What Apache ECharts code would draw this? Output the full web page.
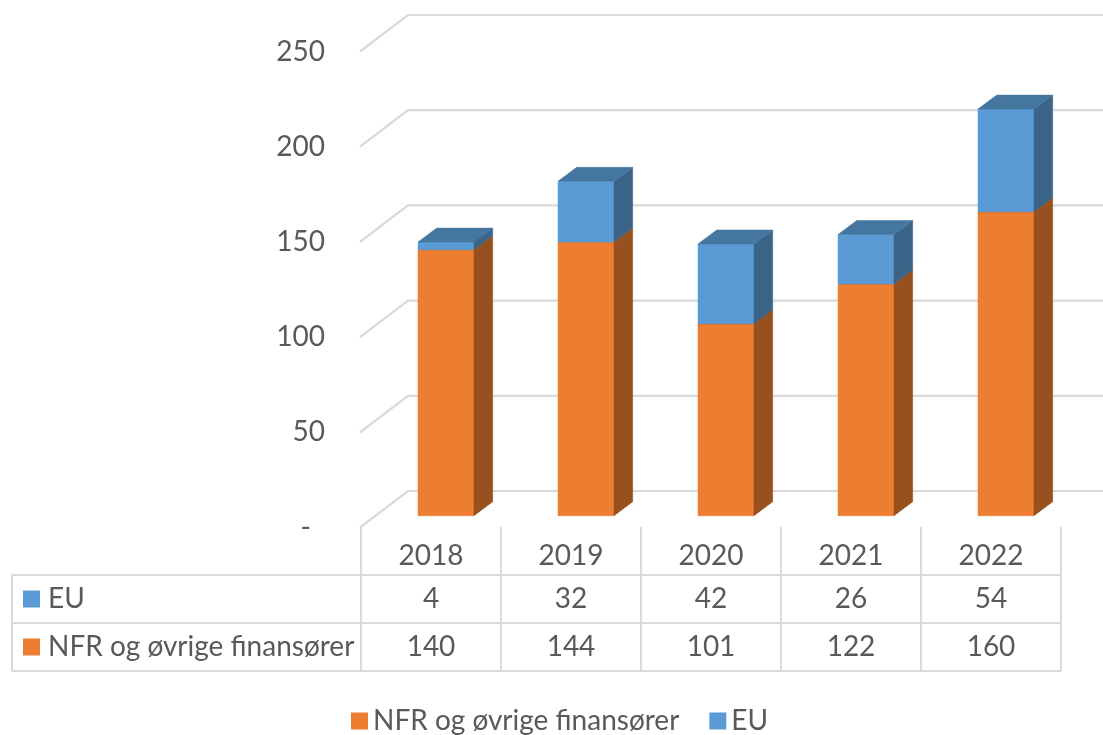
<!DOCTYPE html>
<html><head><meta charset="utf-8">
<script src="https://cdn.jsdelivr.net/npm/echarts@6/dist/echarts.min.js"></script>
<style>html,body{margin:0;padding:0;background:#fff}#c{width:1103px;height:735px}</style>
</head><body><div id="c"></div>
<script>
// ---- data ----
const years = ['2018', '2019', '2020', '2021', '2022'];
const nfrValues = [140, 144, 101, 122, 160];
const euValues = [4, 32, 42, 26, 54];
const nfrName = 'NFR og øvrige finansører';
const euName = 'EU';
const yTicks = [0, 50, 100, 150, 200, 250];

// ---- style ----
const FONT = 'Lato';
const FS = 28;
const TXT = '#595959';
const GRIDC = '#d9d9d9';
const ORANGE = '#ED7D31', ORANGE_SIDE = '#99501F', ORANGE_TOP = '#B5601F';
const BLUE = '#5B9BD5', BLUE_SIDE = '#3A6589', BLUE_TOP = '#44769F';
const DEPTH = [18.7, -14];     // bar side offset
const WALL = [-48, 36.5];      // back wall -> front edge offset
const HEADER_W = 349;          // width of row-header column in table

function box(x0, x1, yb, yt, front, side, top, drawTop) {
  const dx = DEPTH[0], dy = DEPTH[1];
  const ch = [
    { type: 'rect', shape: { x: x0, y: yt, width: x1 - x0, height: yb - yt },
      style: { fill: front, stroke: front, lineWidth: 0.5 } },
    { type: 'polygon', shape: { points: [[x1, yb], [x1 + dx, yb + dy], [x1 + dx, yt + dy], [x1, yt]] },
      style: { fill: side, stroke: side, lineWidth: 0.5 } }
  ];
  if (drawTop) {
    ch.push({ type: 'polygon', shape: { points: [[x0, yt], [x0 + dx, yt + dy], [x1 + dx, yt + dy], [x1, yt]] },
      style: { fill: top, stroke: top, lineWidth: 0.5 } });
  }
  return ch;
}

function txt(text, x, y, align) {
  return { type: 'text', style: { text: String(text), x: x, y: y, align: align || 'center', verticalAlign: 'middle',
    fontFamily: FONT, fontSize: FS, fill: TXT } };
}
function ln(x1, y1, x2, y2) {
  return { type: 'line', shape: { x1: x1, y1: y1, x2: x2, y2: y2 }, style: { stroke: GRIDC, lineWidth: 2 } };
}

const chart = echarts.init(document.getElementById('c'), null, { renderer: 'canvas' });
chart.setOption({
  animation: false,
  backgroundColor: '#fff',
  grid: [
    { left: 360, top: 51.5, width: 1, height: 476 },          // front edge (labels)
    { left: 408, right: 0, top: 15, height: 476 },            // back wall
    { left: 376, width: 700, top: 40.7, height: 475 },        // bar fronts
    { left: 361, width: 700, top: 527, height: 144 }          // data table
  ],
  xAxis: [
    { gridIndex: 0, type: 'value', show: false },
    { gridIndex: 1, type: 'value', min: 0, max: 1, show: false },
    { gridIndex: 2, type: 'category', data: years, show: false },
    { gridIndex: 3, type: 'category', data: years, show: false }
  ],
  yAxis: [
    { gridIndex: 0, type: 'value', min: 0, max: 250, interval: 50,
      axisLine: { show: false }, axisTick: { show: false }, splitLine: { show: false },
      axisLabel: { margin: 35, fontFamily: FONT, fontSize: FS, color: TXT,
        formatter: v => v === 0 ? '{d|-}' : String(v),
        rich: { d: { padding: [0, 14, 0, 0], fontFamily: FONT, fontSize: FS, color: TXT } } } },
    { gridIndex: 1, type: 'value', min: 0, max: 250, interval: 50, show: false },
    { gridIndex: 2, type: 'value', min: 0, max: 250, interval: 50, show: false },
    { gridIndex: 3, type: 'value', min: 0, max: 3, inverse: true, show: false }
  ],
  legend: {
    data: [nfrName, euName],
    left: 346, top: 698,
    icon: 'rect', itemWidth: 17, itemHeight: 17, itemGap: 30,
    textStyle: { fontFamily: FONT, fontSize: FS, color: TXT, lineHeight: 36 }
  },
  series: [
    { // gridlines on the back wall + the slanted side-wall edges
      type: 'custom', name: 'wall', xAxisIndex: 1, yAxisIndex: 1, silent: true, clip: false, z: 1,
      data: yTicks.map(v => [0, v]),
      encode: { x: 0, y: 1 },
      renderItem: function (params, api) {
        const p0 = api.coord([0, api.value(1)]);
        const p1 = api.coord([1, api.value(1)]);
        return { type: 'polyline', shape: { points: [[p0[0] + WALL[0], p0[1] + WALL[1]], p0, p1] },
          style: { stroke: GRIDC, lineWidth: 2.2, fill: null } };
      }
    },
    {
      type: 'custom', name: nfrName, xAxisIndex: 2, yAxisIndex: 2, clip: false, z: 3,
      itemStyle: { color: ORANGE },
      data: nfrValues.map((v, i) => [i, 0, v]),
      encode: { x: 0, y: [1, 2] },
      renderItem: function (params, api) {
        const i = api.value(0);
        const b = api.coord([i, api.value(1)]);
        const t = api.coord([i, api.value(2)]);
        const w = api.size([1, 0])[0] * 0.4;
        return { type: 'group', children: box(b[0] - w / 2, b[0] + w / 2, b[1], t[1], ORANGE, ORANGE_SIDE, ORANGE_TOP, true) };
      }
    },
    {
      type: 'custom', name: euName, xAxisIndex: 2, yAxisIndex: 2, clip: false, z: 4,
      itemStyle: { color: BLUE },
      data: euValues.map((v, i) => [i, nfrValues[i], nfrValues[i] + v]),
      encode: { x: 0, y: [1, 2] },
      renderItem: function (params, api) {
        const i = api.value(0);
        const b = api.coord([i, api.value(1)]);
        const t = api.coord([i, api.value(2)]);
        const w = api.size([1, 0])[0] * 0.4;
        return { type: 'group', children: box(b[0] - w / 2, b[0] + w / 2, b[1], t[1], BLUE, BLUE_SIDE, BLUE_TOP, true) };
      }
    },
    { // data table under the chart
      type: 'custom', name: 'table', xAxisIndex: 3, yAxisIndex: 3, silent: true, clip: false, z: 2,
      data: years.map((y, i) => [i, 0]),
      encode: { x: 0, y: 1 },
      renderItem: function (params, api) {
        const i = api.value(0);
        const cx = api.coord([i, 0])[0];
        const bw = api.size([1, 0])[0];
        const xl = cx - bw / 2, xr = cx + bw / 2;
        const r = k => api.coord([i, k])[1];
        const ch = [
          ln(xr, r(0), xr, r(3)),
          ln(xl, r(1), xr, r(1)), ln(xl, r(2), xr, r(2)), ln(xl, r(3), xr, r(3)),
          txt(years[i], cx, r(0.6)),
          txt(euValues[i], cx, r(1.5)),
          txt(nfrValues[i], cx, r(2.5))
        ];
        if (i === 0) {
          const hx = xl - HEADER_W;
          ch.push(ln(xl, r(0), xl, r(3)));
          ch.push(ln(hx, r(1), xl, r(1)), ln(hx, r(2), xl, r(2)), ln(hx, r(3), xl, r(3)), ln(hx, r(1), hx, r(3)));
          const rows = [[euName, BLUE], [nfrName, ORANGE]];
          rows.forEach((row, k) => {
            const yc = r(1.5 + k);
            ch.push({ type: 'rect', shape: { x: hx + 11, y: yc - 8.5, width: 17, height: 17 }, style: { fill: row[1] } });
            ch.push(txt(row[0], hx + 36, yc, 'left'));
          });
        }
        return { type: 'group', children: ch };
      }
    }
  ]
});
</script>
</body></html>
